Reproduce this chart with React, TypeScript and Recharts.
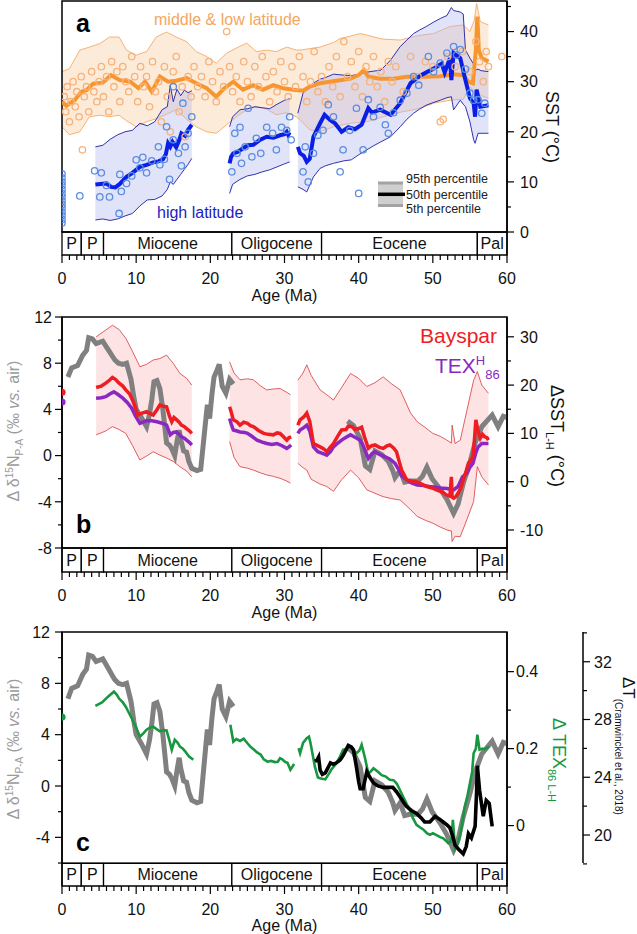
import React from 'react';
import { ComposedChart, Line, Area, Scatter, XAxis, YAxis, ReferenceArea } from 'recharts';

const FONT = '"Liberation Sans", Arial, sans-serif';

// geological epochs along the age axis (Ma)
const EPOCH_NAMES = ['P', 'P', 'Miocene', 'Oligocene', 'Eocene', 'Pal'];
const EPOCH_START = [0, 2.6, 5.6, 22.9, 35, 56];
const EPOCH_END = [2.6, 5.6, 22.9, 35, 56, 60];

const AGE_TICKS = Array.from({ length: 61 }, (_, i) => i);
const SST_TICKS = [0, 5, 10, 15, 20, 25, 30, 35, 40, 45];
const D15N_TICKS_B = [-8, -6, -4, -2, 0, 2, 4, 6, 8, 10, 12];
const DSST_TICKS = [-10, -5, 0, 5, 10, 15, 20, 25, 30];
const D15N_TICKS_C = [-6, -4, -2, 0, 2, 4, 6, 8, 10, 12];
const TEX_TICKS = [0, 0.1, 0.2, 0.3, 0.4];
const CRAM_TICKS = [18, 20, 22, 24, 26, 28, 30, 32, 34];

// ---- panel a : SST compilation ----
const orangeBandAge = [0, 1.0, 2.4, 3.7, 5.1, 6.4, 7.7, 8.7, 10.0, 11.4, 12.7, 14.1, 15.4, 16.8, 18.1, 19.5, 20.8, 22.2, 23.5, 24.9, 26.2, 27.6, 28.9, 30.3, 31.6, 32.1, 33.4, 34.8, 36.6, 37.5, 38.9, 40.2, 41.1, 42.9, 43.3, 45.6, 47.4, 48.5, 50.1, 52.3, 54.1, 55.0, 55.6, 55.9, 56.4, 57.5];
const orangeBandHi = [32, 32.6, 36.3, 36.9, 37.6, 38.9, 38.9, 36.3, 35.3, 36, 38.9, 39.9, 38.9, 38, 36, 35, 33.7, 35.7, 36.7, 37.7, 36, 36.3, 36, 36.9, 36.3, 36.3, 36.6, 36.9, 37.8, 38.6, 39.1, 39.6, 39.3, 38.6, 38.5, 38.3, 39, 39.3, 39.6, 41, 41.3, 40, 42.3, 45.6, 42, 41.3];
const orangeBandLo = [21, 19.4, 20, 23, 23.3, 23, 23.3, 22.2, 21, 22, 22.6, 23.5, 24.4, 22.5, 21, 20, 19.7, 21.4, 23, 24.4, 25, 24.5, 23.4, 23.8, 23, 22.4, 20.4, 20, 21, 21.3, 21.7, 21.9, 22, 22.8, 23, 23.9, 24.4, 24.8, 25.7, 26.3, 26.5, 29, 28, 28.5, 27.3, 26.7];
const orangeMedian = [[0, 26], [0.6, 25.2], [1.7, 26.3], [2.6, 28], [3.3, 28.3], [4.2, 29.6], [5.5, 29.8], [6.6, 31.3], [7.8, 30.3], [9.2, 30], [10.3, 28.7], [11.2, 30], [12.1, 28], [13.2, 31], [14.3, 30], [15.4, 30.2], [16.8, 30.7], [18.1, 29.7], [19.5, 28.7], [20.8, 27], [21.9, 28.7], [23.1, 30], [24.4, 28.4], [25.8, 29.3], [27.1, 28.4], [28.5, 29.3], [29.8, 28.7], [31.2, 28.4], [32.5, 28.2], [33.4, 29], [34.8, 29.7], [36.1, 30], [37.5, 30.3], [38.9, 30.6], [40, 31.3], [40.7, 32.3], [41.3, 31], [42.9, 30.6], [44.7, 30.6], [46.5, 31], [48.8, 31], [51, 31.1], [52.8, 31.5], [54.1, 31.3], [54.8, 30], [55.4, 29.7], [55.8, 36.3], [56, 43], [56.2, 36.3], [56.6, 34.7], [57.5, 34]];
const orangePoints = [[0.3, 27], [0.5, 24], [0.7, 29], [1, 22], [1.2, 26], [1.5, 30], [1.8, 25], [2, 28], [2.3, 23], [2.75, 16.4], [2.6, 31], [3, 27], [3.3, 29], [3.6, 24], [4, 32], [4.3, 28], [4.7, 26], [5, 30], [5.3, 33], [5.6, 27], [6, 31], [6.3, 24], [6.7, 34], [7, 29], [7.4, 32], [7.8, 26], [8.2, 33], [8.6, 30], [9, 28], [9.4, 35], [9.8, 31], [10.2, 26], [10.6, 33], [11, 29], [11.4, 31], [11.8, 25], [12.2, 34], [12.6, 28], [13, 30], [13.4, 22], [13.8, 33], [14.2, 27], [14.6, 20], [15, 32], [15.4, 35], [15.8, 24], [16.2, 29], [16.6, 19], [17, 31], [17.4, 27], [17.8, 33], [18.3, 29], [18.8, 31], [19.3, 27], [19.8, 34], [20.3, 30], [20.8, 26], [21.3, 32], [21.8, 29], [22.2, 40], [22.6, 33], [23, 28], [23.5, 31], [24, 26], [24.5, 34], [25, 30], [25.5, 27], [26, 33], [26.5, 29], [27, 35], [27.5, 31], [28, 26], [28.5, 32], [29, 28], [29.5, 34], [30, 30], [30.5, 27], [31, 33], [31.5, 29], [32, 35], [32.5, 31], [33, 26], [33.5, 30], [34, 36], [34.5, 28], [35, 31], [35.5, 26], [36, 33], [36.5, 29], [37, 35], [37.5, 27], [38, 38], [38.5, 31], [39, 34], [39.5, 29], [40, 36], [40.5, 27], [41, 33], [41.5, 30], [42, 35], [42.5, 29], [43, 32], [43.5, 26], [44, 34], [44.5, 30], [45, 33], [46, 28], [47, 35], [48, 31], [49, 34], [50, 33], [51, 22], [51.4, 22.5], [52, 35], [53, 33], [54, 36], [55, 32], [55.8, 38], [56.3, 34], [56.8, 30], [57.2, 36], [57.5, 33], [59.3, 35]];

const blueBand1Age = [4.5, 5.5, 6.5, 7.5, 8.5, 9.5, 10.5, 11.5, 12.5, 13.5, 14.2, 14.6, 15.0, 15.5, 16.0, 16.5, 17.0, 17.5];
const blueBand1Hi = [17, 17.3, 18.5, 19.4, 20, 20.3, 21.7, 21.2, 22, 24.4, 25, 29.3, 26, 28.5, 27.2, 28.3, 27.8, 28.2];
const blueBand1Lo = [2.4, 2.6, 2.3, 2.6, 3.2, 3.7, 5.2, 6.4, 6.5, 7.2, 8.5, 10, 9.5, 10.5, 11.5, 12.5, 13.5, 14.7];
const blueBand2Age = [22.6, 23.0, 24.0, 25.0, 26.0, 27.0, 28.0, 29.0, 30.0, 30.7];
const blueBand2Hi = [21, 23, 24.4, 24.6, 25, 24.8, 24.6, 25.5, 26.3, 26.6];
const blueBand2Lo = [7.7, 9.5, 10.5, 11.2, 11.5, 12, 12.4, 13, 13.6, 14];
const blueBand3Age = [31.8, 32.5, 33.0, 33.9, 34.8, 35.5, 36.6, 38.0, 39.0, 40.0, 41.1, 42.0, 43.0, 44.3, 45.6, 46.5, 47.4, 48.2, 49.1, 50.0, 51.0, 51.9, 52.5, 52.8, 53.7, 54.1, 54.4, 55.0, 55.5, 55.7, 56.1, 56.5, 57.5];
const blueBand3Hi = [23.7, 27.7, 28.5, 29.7, 30.5, 30.8, 31.5, 31.3, 31.2, 31.5, 31.9, 32.1, 32.3, 34.3, 37, 38.3, 39.6, 40.3, 41, 41.8, 42.6, 43.2, 44.8, 44.2, 43.9, 43.5, 36.3, 34.7, 33.5, 32.3, 32.5, 32.2, 32];
const blueBand3Lo = [9, 8.5, 8, 11, 12.7, 13.2, 13.7, 14.2, 14.4, 15.4, 16.4, 17.2, 18, 19, 21, 22.5, 23.7, 24.5, 25.3, 25.8, 26.3, 26.8, 27, 24.4, 26.3, 25.5, 25, 22, 18.4, 17.7, 19.7, 19.7, 19.7];
const blueMedian1 = [[4.5, 9.5], [5.2, 9.6], [6, 9.7], [6.6, 9.0], [7.2, 8.9], [7.8, 9.6], [8.7, 11], [9.5, 11.8], [10.5, 13], [11.4, 13.4], [12.3, 13.9], [13, 14.1], [13.6, 14.5], [14, 15.5], [14.3, 17.7], [14.6, 17], [14.9, 18], [15.4, 16.9], [15.8, 18.3], [16.1, 19.7], [16.6, 19.2], [17, 20.4], [17.5, 21.4]];
const blueMedian2 = [[22.6, 13.7], [22.8, 15], [23.1, 15.7], [23.7, 16], [24.4, 16.7], [25.1, 17.3], [25.8, 17.4], [26.6, 18.3], [27.6, 19], [28.5, 18.8], [29.4, 19.3], [30, 19.5], [30.3, 20], [30.5, 19.4], [30.7, 19.9]];
const blueMedian3 = [[31.8, 17], [32.1, 15.7], [32.6, 15.2], [33, 14], [33.4, 14.6], [33.9, 19], [34.8, 21.7], [35.4, 23.4], [36.1, 22.4], [36.8, 21.7], [37.7, 20], [38.6, 20.9], [39.5, 20.5], [40.4, 21.4], [41.3, 24.7], [41.8, 23.8], [42.9, 24.4], [44.3, 23.4], [45.6, 25.7], [47, 29.7], [48.4, 31.3], [50.1, 32.6], [51.2, 33.6], [51.6, 31.8], [52.3, 34.7], [52.5, 30.3], [52.8, 35.7], [53.7, 34.7], [54.4, 30.3], [55, 26.7], [55.5, 25.7], [55.7, 23], [55.9, 28.4], [56.4, 25], [57.5, 25.3]];
const bluePoints = [[0, 1.8], [0, 2.5], [0, 3.3], [0, 4], [0, 4.8], [0, 5.5], [0, 6.2], [0, 7], [0, 7.7], [0, 8.5], [0, 9.3], [0, 10], [0, 10.8], [0, 11.6], [2.4, 7.2], [4.4, 12.2], [5.3, 11.8], [5.1, 7], [6.4, 7], [6, 9.3], [7.8, 11.5], [8, 8.1], [8.7, 9.7], [7.7, 3.7], [9.4, 11.2], [10, 14.4], [10.5, 12.8], [10.9, 14.9], [11.4, 11.8], [12.1, 14.2], [13, 17], [13.2, 13.4], [13.8, 14.5], [14.1, 21], [14.5, 10.5], [15, 18.4], [15.7, 15.7], [16.1, 13.2], [16.6, 17], [17, 19.7], [17.5, 23], [16.3, 25.7], [15, 29], [22.9, 12], [23.3, 19.7], [24, 20.9], [23.6, 15.7], [24.2, 13.7], [24.7, 17], [25.1, 24.7], [25.6, 15], [26.2, 18.7], [26.8, 15.7], [27.6, 20.9], [28.4, 19.7], [28.9, 16.4], [29.6, 20.9], [30.3, 20.3], [30.7, 23], [30.9, 18.4], [32.5, 12], [33.2, 10], [33.9, 15.7], [32.8, 17], [34.5, 19.3], [35.2, 20.3], [35.9, 25.4], [36.6, 23], [37.5, 12], [37.9, 16.4], [38.8, 20.3], [40, 7.7], [39.7, 24.7], [40.6, 16.4], [41.3, 26.4], [42, 23], [42.9, 24.9], [43.6, 21.4], [44, 19.7], [44.7, 23.8], [45.6, 26.3], [46.5, 27.7], [47.4, 31], [48.1, 29.3], [49.4, 35], [50.1, 32], [51, 33.7], [51.9, 35.7], [52.8, 37], [53.2, 35.3], [53.7, 36.4], [54.4, 32.5], [55, 27.7], [55.5, 26.3], [56.1, 26.4], [56.6, 23.7], [57, 25.7]];

// ---- panel b : d15N gradient and SST gradient ----
const grayD15N1 = [[0.8, 6.8], [1.3, 7.6], [2.1, 7.8], [2.8, 8.7], [3.3, 9.1], [3.6, 10.2], [4.1, 10.1], [4.6, 9.7], [5.5, 9.9], [6.0, 9.4], [6.4, 9.0], [6.8, 8.6], [7.1, 8.3], [7.6, 8.0], [8.2, 7.9], [8.7, 8.0], [9.3, 6.6], [9.7, 5.0], [10.0, 4.0], [10.7, 3.3], [11.4, 2.5], [11.8, 3.6], [12.1, 4.8], [12.4, 6.4], [12.8, 6.5], [13.2, 5.8], [13.6, 4.0], [14.1, 1.1], [14.5, 0.9], [14.8, 0.6], [15.2, 0.0], [15.5, 1.2], [15.8, 2.2], [16.0, 1.4], [16.4, 0.4], [16.8, 0.3], [17.1, -0.5], [17.5, -1.1], [18.2, -1.3], [18.7, -1.2], [19.1, 1.3], [19.4, 3.2], [19.6, 4.4], [19.9, 3.2], [20.2, 5.2], [20.5, 6.8], [20.9, 7.4], [21.2, 7.9], [21.6, 6.0], [22.1, 5.4], [22.6, 6.6], [23.1, 6.2]];
const grayD15N2 = [[38.5, 3.0], [39.3, 2.6], [40.2, 1.5], [40.9, -0.9], [41.5, -1.2], [42.2, 0.4], [43.1, 0.1], [44.0, -0.5], [44.6, -1.3], [44.9, -1.9], [45.6, -1.3], [46.2, -2.3], [46.9, -2.2], [48.0, -2.2], [48.6, -1.8], [49.2, -1.0], [49.9, -2.0], [51.0, -2.9], [51.9, -3.8], [52.5, -4.6], [52.8, -5.0], [53.4, -4.2], [54.1, -2.4], [55.0, -0.6], [55.7, 1.1], [56.6, 2.5], [57.3, 3.0], [58.0, 3.5], [58.8, 2.5], [59.5, 3.4], [60, 3.3]];

const redBand1Age = [4.6, 5.9, 6.8, 7.7, 8.6, 9.5, 10.5, 11.4, 12.3, 13.2, 14.1, 15.0, 15.9, 16.8, 17.5];
const redBand1Hi = [30, 31.4, 32.4, 31.5, 29.7, 27, 23.8, 24.3, 25.2, 25.5, 26.2, 24.5, 22.4, 21.4, 20];
const redBand1Lo = [9.7, 10.5, 11.4, 10.8, 10, 7.5, 4.5, 5.3, 6.2, 5.5, 4.9, 4.2, 3.1, 2.2, 1];
const redBand2Age = [22.6, 23.2, 24, 25, 25.8, 26.8, 27.6, 28.5, 29.4, 30.2, 30.8];
const redBand2Hi = [24.8, 22.5, 21.1, 21.3, 21.1, 19.8, 19, 19.2, 19.3, 18.6, 18];
const redBand2Lo = [8.3, 5, 3.1, 2.8, 2.4, 1.8, 1.4, 1.1, 0.7, 0.2, -0.3];
const redBand3Age = [31.8, 32.5, 33, 33.6, 34.8, 35.7, 36.6, 37.7, 38.9, 40, 41.1, 42.2, 43.3, 44.4, 45.6, 47, 47.9, 49, 50, 51, 51.9, 52.5, 52.6, 53, 53.7, 54.6, 55.5, 56, 56.6, 57.5];
const redBand3Hi = [21, 22.5, 24.2, 22, 19, 18, 16.9, 19.5, 22.4, 21.4, 19.7, 20.5, 21.7, 20.3, 19, 14.2, 12.4, 11.2, 10, 9.4, 8.6, 8, 11.7, 7.9, 8.6, 14.8, 21, 22.8, 20, 18.3];
const redBand3Lo = [3.8, 2.9, 2.4, 0.5, -0.5, -1, -2, 0.4, 2.4, 0.8, -1.7, -2.4, -3.1, -3.5, -3.8, -5.8, -7.2, -8, -8.6, -9.4, -10, -10.2, -12.4, -11.3, -11.4, -7.8, -4.1, 3.1, 1, -0.7];

const bayspar1 = [[4.6, 19.5], [5.3, 19.8], [5.9, 20.4], [6.4, 21], [6.8, 21.6], [7.2, 21.2], [7.7, 20.4], [8.2, 19.8], [8.6, 19], [9.1, 18.2], [9.5, 16.9], [9.9, 15.4], [10.2, 13.8], [10.8, 14.2], [11.4, 14.5], [11.9, 14.1], [12.3, 13.8], [12.8, 14.9], [13.2, 15.9], [13.7, 15.6], [14.1, 15.5], [14.5, 13.5], [14.8, 12.4], [15.1, 13.3], [15.4, 12.9], [15.8, 12.3], [16.1, 11.7], [16.5, 11.4], [16.8, 11], [17.2, 10.5], [17.5, 10]];
const bayspar2 = [[22.6, 15.5], [22.8, 14.5], [23.1, 12.8], [23.6, 12.4], [24, 11.7], [24.5, 12.3], [25, 12.1], [25.4, 11.6], [25.8, 11.4], [26.5, 10.6], [27.2, 10], [27.8, 9.8], [28.5, 9.7], [29, 10.1], [29.4, 10], [29.8, 9.4], [30.3, 8.6], [30.6, 9.1], [30.9, 9.3]];
const bayspar3 = [[31.8, 11.7], [32.1, 12.8], [32.6, 13.4], [33, 14.2], [33.4, 12.5], [33.9, 7.9], [34.8, 7.2], [35.3, 6.8], [35.7, 6.2], [36.1, 7], [36.6, 7.9], [37.2, 9.5], [37.7, 10.7], [38.3, 10.8], [38.6, 11.5], [39.1, 11.4], [39.5, 10.8], [40, 11], [40.4, 11.3], [40.8, 9.2], [41.3, 6.9], [41.7, 7.4], [42.2, 7.6], [42.8, 7.1], [43.3, 6.9], [43.8, 7.4], [44.2, 7.6], [44.7, 7], [45.1, 6.2], [45.5, 4], [45.8, 2.4], [46.5, 0.35], [47.2, 0.1], [47.8, 0], [48.5, -0.5], [49.2, -1], [49.9, -1.3], [50.5, -1.7], [51.2, -2.1], [51.9, -2.8], [52.3, -3], [52.5, 1], [52.6, -3.2], [52.8, -3.4], [53.1, -3.1], [53.4, -2.4], [53.8, -1.2], [54.1, 0.35], [54.5, 2.2], [54.8, 3.8], [55.1, 4.4], [55.4, 5.2], [55.6, 8.5], [55.8, 12.8], [56.1, 10.5], [56.4, 9], [56.7, 9.8], [57, 9.3], [57.3, 9.1], [57.5, 8.6]];
const texH1 = [[4.6, 17.3], [5.3, 17.4], [5.9, 17.6], [6.5, 18.2], [7, 18.6], [7.6, 18], [8.2, 17.3], [8.8, 16.4], [9.4, 15.2], [9.9, 13.6], [10.5, 12.1], [11, 12.4], [11.4, 12.6], [12.1, 12.6], [12.8, 12.4], [13.5, 12.1], [14.1, 11.7], [14.6, 9.7], [15, 10.2], [15.4, 10.3], [15.8, 9.8], [16.1, 9.3], [16.5, 9], [16.8, 8.6], [17.2, 8.1], [17.5, 7.6]];
const texH2 = [[22.6, 13.1], [22.8, 12], [23.1, 10.7], [23.6, 10.5], [24, 10.3], [24.6, 10.2], [25, 10], [25.6, 9.4], [26.3, 8.6], [27, 8.2], [27.6, 7.9], [28.3, 7.7], [29, 7.9], [29.6, 7.5], [30.3, 6.9], [30.6, 7.2], [30.9, 7.6]];
const texH3 = [[31.8, 10], [32.1, 10.7], [32.6, 11.2], [33, 11.7], [33.4, 10.5], [33.9, 7.2], [34.5, 6.2], [35.2, 5.8], [35.7, 5.5], [36.2, 6.2], [36.6, 7.2], [37.2, 8], [37.7, 8.6], [38.3, 9.2], [38.9, 9.7], [39.5, 9.2], [40.2, 8.6], [40.6, 7.5], [41.3, 4.8], [41.8, 5.8], [42.2, 6.2], [42.9, 5.6], [43.5, 5.2], [44.2, 4.7], [44.9, 3.8], [45.4, 2.5], [45.8, 1.2], [46.5, 0.35], [47.2, -0.3], [47.9, -0.7], [48.7, -0.8], [49.5, -1], [50.2, -1.1], [51, -1.3], [51.9, -1.4], [52.8, -1.7], [53.4, -1], [54, 1], [54.6, 1.7], [55, 3], [55.4, 3.8], [55.8, 6], [56.1, 7.2], [56.6, 7.9], [57, 7.9], [57.5, 7.9]];
const modernBayspar = [[0, 18.5]];
const modernTexH = [[0, 16.5]];

// ---- panel c : TEX86 gradient and Cramwinckel et al. 2018 ----
const texGrad1 = [[4.5, 0.311], [5.4, 0.32], [6.2, 0.335], [7, 0.348], [7.4, 0.34], [7.7, 0.33], [8.2, 0.32], [8.6, 0.309], [9.1, 0.29], [9.5, 0.275], [10, 0.255], [10.5, 0.231], [11, 0.24], [11.4, 0.249], [11.9, 0.255], [12.3, 0.257], [12.8, 0.25], [13.2, 0.245], [13.7, 0.248], [14.1, 0.247], [14.5, 0.22], [14.8, 0.197], [15.2, 0.223], [15.6, 0.215], [15.9, 0.205], [16.3, 0.2], [16.6, 0.193], [17.1, 0.18], [17.7, 0.171]];
const texGrad2 = [[22.7, 0.262], [22.9, 0.24], [23.1, 0.218], [23.5, 0.225], [24, 0.22], [24.5, 0.226], [25, 0.214], [25.4, 0.205], [25.9, 0.197], [26.3, 0.19], [26.8, 0.184], [27.2, 0.172], [27.7, 0.166], [28.2, 0.168], [28.7, 0.165], [29.1, 0.166], [29.4, 0.175], [29.7, 0.172], [30.1, 0.165], [30.4, 0.163], [30.8, 0.145], [31.3, 0.16]];
const texGrad3 = [[31.9, 0.201], [32.1, 0.188], [32.5, 0.215], [33, 0.227], [33.3, 0.231], [33.5, 0.215], [34.1, 0.153], [34.5, 0.125], [34.8, 0.123], [35.5, 0.12], [36, 0.135], [36.3, 0.145], [37, 0.162], [37.5, 0.18], [37.9, 0.197], [38.4, 0.2], [38.8, 0.205], [39.3, 0.195], [39.7, 0.188], [40.1, 0.195], [40.4, 0.21], [40.8, 0.18], [41.3, 0.136], [41.6, 0.14], [42, 0.149], [42.6, 0.14], [43.1, 0.131], [43.6, 0.128], [44.2, 0.119], [44.7, 0.118], [45.1, 0.11], [45.5, 0.095], [46, 0.075], [46.5, 0.055], [46.9, 0.041], [47.3, 0.02], [47.8, 0.002], [48.3, -0.005], [48.7, -0.01], [49.2, -0.02], [49.6, -0.024], [50, -0.02], [50.5, -0.025], [51, -0.03], [51.4, -0.033], [51.8, -0.04], [52.1, -0.046], [52.5, -0.04], [52.7, 0.015], [53, -0.059], [53.4, -0.045], [53.7, -0.024], [54, 0.01], [54.3, 0.049], [54.7, 0.08], [55, 0.11], [55.3, 0.14], [55.5, 0.188], [55.8, 0.2], [56, 0.236], [56.3, 0.197], [56.7, 0.2], [57, 0.198], [57.3, 0.202], [57.6, 0.205]];
const modernTexGrad = [[0, 0.282]];
const cramwinckel = [[34.1, 25.1], [34.4, 25.2], [34.6, 25.4], [34.8, 24.5], [35.1, 24.2], [35.5, 24.3], [35.8, 24.6], [36.2, 25], [36.6, 24.9], [37, 25], [37.5, 25.2], [37.9, 25.5], [38.3, 25.9], [38.6, 26.2], [39, 26.1], [39.3, 25.9], [39.7, 24.7], [40, 23.7], [40.2, 23.2], [40.6, 23.2], [41.1, 24.4], [41.5, 24], [42, 23.6], [42.6, 23.4], [43.3, 23.3], [44, 23.3], [44.6, 23.3], [45.1, 23], [45.5, 22.7], [46, 22.3], [46.4, 22], [47.1, 21.7], [47.8, 21.5], [48.4, 21.2], [48.9, 20.9], [49.6, 20.9], [50.3, 21.3], [50.9, 21.1], [51.4, 20.9], [51.9, 20.7], [52.3, 20.5], [52.7, 19.9], [53, 19.3], [53.5, 19], [54.1, 18.7], [54.5, 19.2], [54.8, 20.1], [55.2, 19.8], [55.7, 20.6], [55.9, 23], [56, 24.8], [56.3, 23.1], [56.8, 21.3], [57.2, 22.4], [57.6, 22.2], [58, 20.6]];

const pts = (arr: number[][]) => arr.map(([x, y]) => ({ x, y }));
const band = (age: number[], lo: number[], hi: number[]) => age.map((x, i) => ({ x, r: [lo[i], hi[i]] }));

const xTick = (props: any) => {
  const { x, y, payload } = props;
  const v = payload.value;
  const major = v % 10 === 0;
  return (
    <g>
      <line x1={x} x2={x} y1={y} y2={y + (major ? 8 : 5)} stroke="#000" strokeWidth={1.2} />
      {major && (
        <text x={x} y={y + 29} textAnchor="middle" fontSize={16} fontFamily={FONT} fill="#111">{v}</text>
      )}
    </g>
  );
};

function makeYTick(side: 'left' | 'right', labels: number[], gap: number) {
  return (props: any) => {
    const { x, y, payload } = props;
    const v = payload.value;
    const major = labels.includes(v);
    const dir = side === 'left' ? -1 : 1;
    return (
      <g>
        <line x1={x} x2={x + dir * (major ? 7 : 4)} y1={y} y2={y} stroke="#000" strokeWidth={1.2} />
        {major && (
          <text x={x + dir * gap} y={y} dy="0.36em" textAnchor={side === 'left' ? 'end' : 'start'}
            fontSize={16} fontFamily={FONT} fill="#111">{v}</text>
        )}
      </g>
    );
  };
}

const epochAreas = (axisId: string, lo: number, hi: number) =>
  EPOCH_NAMES.map((name, i) => (
    <ReferenceArea key={'ep' + i} yAxisId={axisId} x1={EPOCH_START[i]} x2={EPOCH_END[i]} y1={lo} y2={hi}
      fill="#fff" fillOpacity={1} stroke="#000" strokeWidth={1.3} ifOverflow="visible"
      label={{ value: name, position: 'center', fontSize: 16, fill: '#111', fontFamily: FONT }} />
  ));

const frame = (axisId: string, lo: number, hi: number) => (
  <ReferenceArea yAxisId={axisId} x1={0} x2={60} y1={lo} y2={hi} fill="none" fillOpacity={0}
    stroke="#000" strokeWidth={1.5} ifOverflow="visible" />
);

const ageAxis = (h: number) => (
  <XAxis type="number" dataKey="x" domain={[0, 60]} ticks={AGE_TICKS} interval={0} tick={xTick}
    tickLine={false} tickSize={0} tickMargin={0} axisLine={false} height={h} allowDataOverflow />
);

const circle = (color: string) => (p: any) => (
  <circle cx={p.cx} cy={p.cy} r={3.2} fill="none" stroke={color} strokeWidth={1.3} />
);
const dotShape = (color: string) => (p: any) => <circle cx={p.cx} cy={p.cy} r={3.6} fill={color} />;

const ORANGE = '#f7962e';
const BLUE = '#0b1ee6';
const RED = '#ee1d23';
const PURPLE = '#8b27c2';
const GRAY = '#808080';
const GREEN = '#17973f';

function PanelA() {
  const blueBands = [
    band(blueBand1Age, blueBand1Lo, blueBand1Hi),
    band(blueBand2Age, blueBand2Lo, blueBand2Hi),
    band(blueBand3Age, blueBand3Lo, blueBand3Hi),
  ];
  const blueMedians = [blueMedian1, blueMedian2, blueMedian3];
  return (
    <ComposedChart width={637} height={300} margin={{ top: 1, right: 30, bottom: 0, left: 62 }}>
      {ageAxis(45)}
      <YAxis yAxisId="sst" orientation="right" type="number" domain={[-4.59, 46.1]} ticks={SST_TICKS}
        interval={0} width={100} tick={makeYTick('right', [0, 10, 20, 30, 40], 13)} tickLine={false}
        tickSize={0} tickMargin={0} axisLine={{ stroke: '#000', strokeWidth: 1.5 }} allowDataOverflow />
      {epochAreas('sst', -4.59, 0)}
      <Area yAxisId="sst" data={band(orangeBandAge, orangeBandLo, orangeBandHi)} dataKey="r" type="linear"
        fill="#fbd7b3" fillOpacity={0.5} stroke="#f5aa66" strokeWidth={0.9} isAnimationActive={false}
        dot={false} activeDot={false} />
      {blueBands.map((d, i) => (
        <Area key={'bb' + i} yAxisId="sst" data={d} dataKey="r" type="linear" fill="#b8bcef" fillOpacity={0.42}
          stroke="#1d1da6" strokeWidth={0.9} isAnimationActive={false} dot={false} activeDot={false} />
      ))}
      <Scatter yAxisId="sst" data={pts(orangePoints)} dataKey="y" shape={circle('#f6b27b')} isAnimationActive={false} />
      <Scatter yAxisId="sst" data={pts(bluePoints)} dataKey="y" shape={circle('#5a8de2')} isAnimationActive={false} />
      <Line yAxisId="sst" data={pts(orangeMedian)} dataKey="y" type="linear" stroke={ORANGE} strokeWidth={4}
        dot={false} activeDot={false} isAnimationActive={false} />
      {blueMedians.map((d, i) => (
        <Line key={'bm' + i} yAxisId="sst" data={pts(d)} dataKey="y" type="linear" stroke={BLUE} strokeWidth={4}
          dot={false} activeDot={false} isAnimationActive={false} />
      ))}
      {frame('sst', 0, 46.1)}
    </ComposedChart>
  );
}

function PanelB() {
  const redBands = [
    band(redBand1Age, redBand1Lo, redBand1Hi),
    band(redBand2Age, redBand2Lo, redBand2Hi),
    band(redBand3Age, redBand3Lo, redBand3Hi),
  ];
  return (
    <ComposedChart width={637} height={330} margin={{ top: 17, right: 30, bottom: 0, left: 0 }}>
      {ageAxis(58)}
      <YAxis yAxisId="n" orientation="left" type="number" domain={[-10.08, 12]} ticks={D15N_TICKS_B}
        interval={0} width={62} tick={makeYTick('left', [-8, -4, 0, 4, 8, 12], 10)} tickLine={false}
        tickSize={0} tickMargin={0} axisLine={{ stroke: '#000', strokeWidth: 1.5 }} allowDataOverflow />
      <YAxis yAxisId="t" orientation="right" type="number" domain={[-18.7, 34.1]} ticks={DSST_TICKS}
        interval={0} width={100} tick={makeYTick('right', [-10, 0, 10, 20, 30], 13)} tickLine={false}
        tickSize={0} tickMargin={0} axisLine={{ stroke: '#000', strokeWidth: 1.5 }} allowDataOverflow />
      {epochAreas('n', -10.08, -8)}
      {redBands.map((d, i) => (
        <Area key={'rb' + i} yAxisId="t" data={d} dataKey="r" type="linear" fill="#fcd9d9" fillOpacity={0.75}
          stroke="#d83a3c" strokeWidth={0.8} isAnimationActive={false} dot={false} activeDot={false} />
      ))}
      {[grayD15N1, grayD15N2].map((d, i) => (
        <Line key={'g' + i} yAxisId="n" data={pts(d)} dataKey="y" type="linear" stroke={GRAY} strokeWidth={5}
          dot={false} activeDot={false} isAnimationActive={false} />
      ))}
      {[texH1, texH2, texH3].map((d, i) => (
        <Line key={'p' + i} yAxisId="t" data={pts(d)} dataKey="y" type="linear" stroke={PURPLE} strokeWidth={3.5}
          dot={false} activeDot={false} isAnimationActive={false} />
      ))}
      {[bayspar1, bayspar2, bayspar3].map((d, i) => (
        <Line key={'r' + i} yAxisId="t" data={pts(d)} dataKey="y" type="linear" stroke={RED} strokeWidth={3.5}
          dot={false} activeDot={false} isAnimationActive={false} />
      ))}
      <Scatter yAxisId="t" data={pts(modernBayspar)} dataKey="y" shape={dotShape(RED)} isAnimationActive={false} />
      <Scatter yAxisId="t" data={pts(modernTexH)} dataKey="y" shape={dotShape(PURPLE)} isAnimationActive={false} />
      {frame('n', -8, 12)}
    </ComposedChart>
  );
}

function PanelC() {
  return (
    <ComposedChart width={637} height={319} margin={{ top: 17, right: 14, bottom: 0, left: 0 }}>
      {ageAxis(48)}
      <YAxis yAxisId="n" orientation="left" type="number" domain={[-7.79, 12]} ticks={D15N_TICKS_C}
        interval={0} width={62} tick={makeYTick('left', [-4, 0, 4, 8, 12], 12)} tickLine={false}
        tickSize={0} tickMargin={0} axisLine={{ stroke: '#000', strokeWidth: 1.5 }} allowDataOverflow />
      <YAxis yAxisId="z_cram" orientation="right" type="number" domain={[16.47, 34.06]} ticks={CRAM_TICKS}
        interval={0} width={40} tick={makeYTick('right', [20, 24, 28, 32], 11)} tickLine={false}
        tickSize={0} tickMargin={0} axisLine={false} allowDataOverflow />
      <YAxis yAxisId="a_tex" orientation="right" type="number" domain={[-0.157, 0.503]} ticks={TEX_TICKS}
        interval={0} width={76} tick={makeYTick('right', [0, 0.2, 0.4], 9)} tickLine={false}
        tickSize={0} tickMargin={0} axisLine={{ stroke: '#000', strokeWidth: 1.5 }} allowDataOverflow />
      {epochAreas('n', -7.79, -6.02)}
      {[grayD15N1, grayD15N2].map((d, i) => (
        <Line key={'g' + i} yAxisId="n" data={pts(d)} dataKey="y" type="linear" stroke={GRAY} strokeWidth={5}
          dot={false} activeDot={false} isAnimationActive={false} />
      ))}
      {[texGrad1, texGrad2, texGrad3].map((d, i) => (
        <Line key={'t' + i} yAxisId="a_tex" data={pts(d)} dataKey="y" type="linear" stroke={GREEN} strokeWidth={2.6}
          dot={false} activeDot={false} isAnimationActive={false} />
      ))}
      <Line yAxisId="z_cram" data={pts(cramwinckel)} dataKey="y" type="linear" stroke="#000" strokeWidth={3.6}
        dot={false} activeDot={false} isAnimationActive={false} />
      <Scatter yAxisId="a_tex" data={pts(modernTexGrad)} dataKey="y" shape={dotShape(GREEN)} isAnimationActive={false} />
      {frame('n', -6.02, 12)}
    </ComposedChart>
  );
}

function Overlay() {
  return (
    <svg width={637} height={934} style={{ position: 'absolute', left: 0, top: 0, pointerEvents: 'none' }}
      fontFamily={FONT}>
      {/* panel letters */}
      <text x={76} y={32} fontSize={25} fontWeight="bold" fill="#000">a</text>
      <text x={76} y={533} fontSize={25} fontWeight="bold" fill="#000">b</text>
      <text x={76} y={851} fontSize={25} fontWeight="bold" fill="#000">c</text>

      {/* panel a annotations */}
      <text x={154} y={25} fontSize={16} fill="#f4a660">middle &amp; low latitude</text>
      <text x={157} y={218} fontSize={16} fill="#1c1cc4">high latitude</text>
      <rect x={378} y={183} width={25} height={23} fill="#cfcfcf" />
      <line x1={378} x2={403} y1={183} y2={183} stroke="#a3a3a3" strokeWidth={3} />
      <line x1={378} x2={403} y1={205.5} y2={205.5} stroke="#a3a3a3" strokeWidth={3} />
      <line x1={378} x2={405} y1={194.3} y2={194.3} stroke="#000" strokeWidth={3.5} />
      <text x={406} y={182.5} fontSize={12.5} fill="#222">95th percentile</text>
      <text x={406} y={198.5} fontSize={12.5} fill="#222">50th percentile</text>
      <text x={406} y={213} fontSize={12.5} fill="#222">5th percentile</text>

      {/* panel b legend */}
      <text x={497} y={343} fontSize={21} fill={RED} textAnchor="end">Bayspar</text>
      <text x={435} y={373} fontSize={21} fill={PURPLE}>
        TEX<tspan fontSize={13} dy={-8}>H</tspan><tspan fontSize={13} dy={14}>86</tspan>
      </text>

      {/* x axis titles */}
      <text x={284.5} y={301} fontSize={16} textAnchor="middle" fill="#111">Age (Ma)</text>
      <text x={284.5} y={618} fontSize={16} textAnchor="middle" fill="#111">Age (Ma)</text>
      <text x={284.5} y={931} fontSize={16} textAnchor="middle" fill="#111">Age (Ma)</text>

      {/* left axis titles */}
      {[431, 749].map((cy) => (
        <text key={cy} transform={`translate(19,${cy}) rotate(-90)`} textAnchor="middle" fontSize={16} fill="#9b9b9b">
          Δ δ<tspan fontSize={10} dy={-6}>15</tspan><tspan dy={6}>N</tspan><tspan fontSize={10} dy={4}>P-A</tspan>
          <tspan dy={-4}> (‰ </tspan><tspan fontStyle="italic">vs.</tspan> air)
        </text>
      ))}

      {/* right axis titles */}
      <text transform="translate(546,127) rotate(90)" textAnchor="middle" fontSize={18} fill="#111">SST (°C)</text>
      <text transform="translate(551,436) rotate(90)" textAnchor="middle" fontSize={18} fill="#111">
        ΔSST<tspan fontSize={11} dy={5}>L-H</tspan><tspan dy={-5}> (°C)</tspan>
      </text>
      <text transform="translate(553,760) rotate(90)" textAnchor="middle" fontSize={18} fill={GREEN}>
        Δ TEX<tspan fontSize={11} dy={5}>86 L-H</tspan>
      </text>
      <text transform="translate(623,677) rotate(90)" fontSize={17} fill="#111">
        ΔT<tspan fontSize={10} dy={8}>(Cramwinckel et al., 2018)</tspan>
      </text>

      {/* free-standing axis line for the Cramwinckel scale */}
      <line x1={583} x2={583} y1={632} y2={863} stroke="#000" strokeWidth={1.5} />
    </svg>
  );
}

export default function App() {
  return (
    <div style={{ position: 'absolute', left: 0, top: 0, width: 637, height: 934, background: '#fff' }}>
      <div style={{ position: 'absolute', left: 0, top: 0 }}><PanelA /></div>
      <div style={{ position: 'absolute', left: 0, top: 300 }}><PanelB /></div>
      <div style={{ position: 'absolute', left: 0, top: 615 }}><PanelC /></div>
      <Overlay />
    </div>
  );
}
